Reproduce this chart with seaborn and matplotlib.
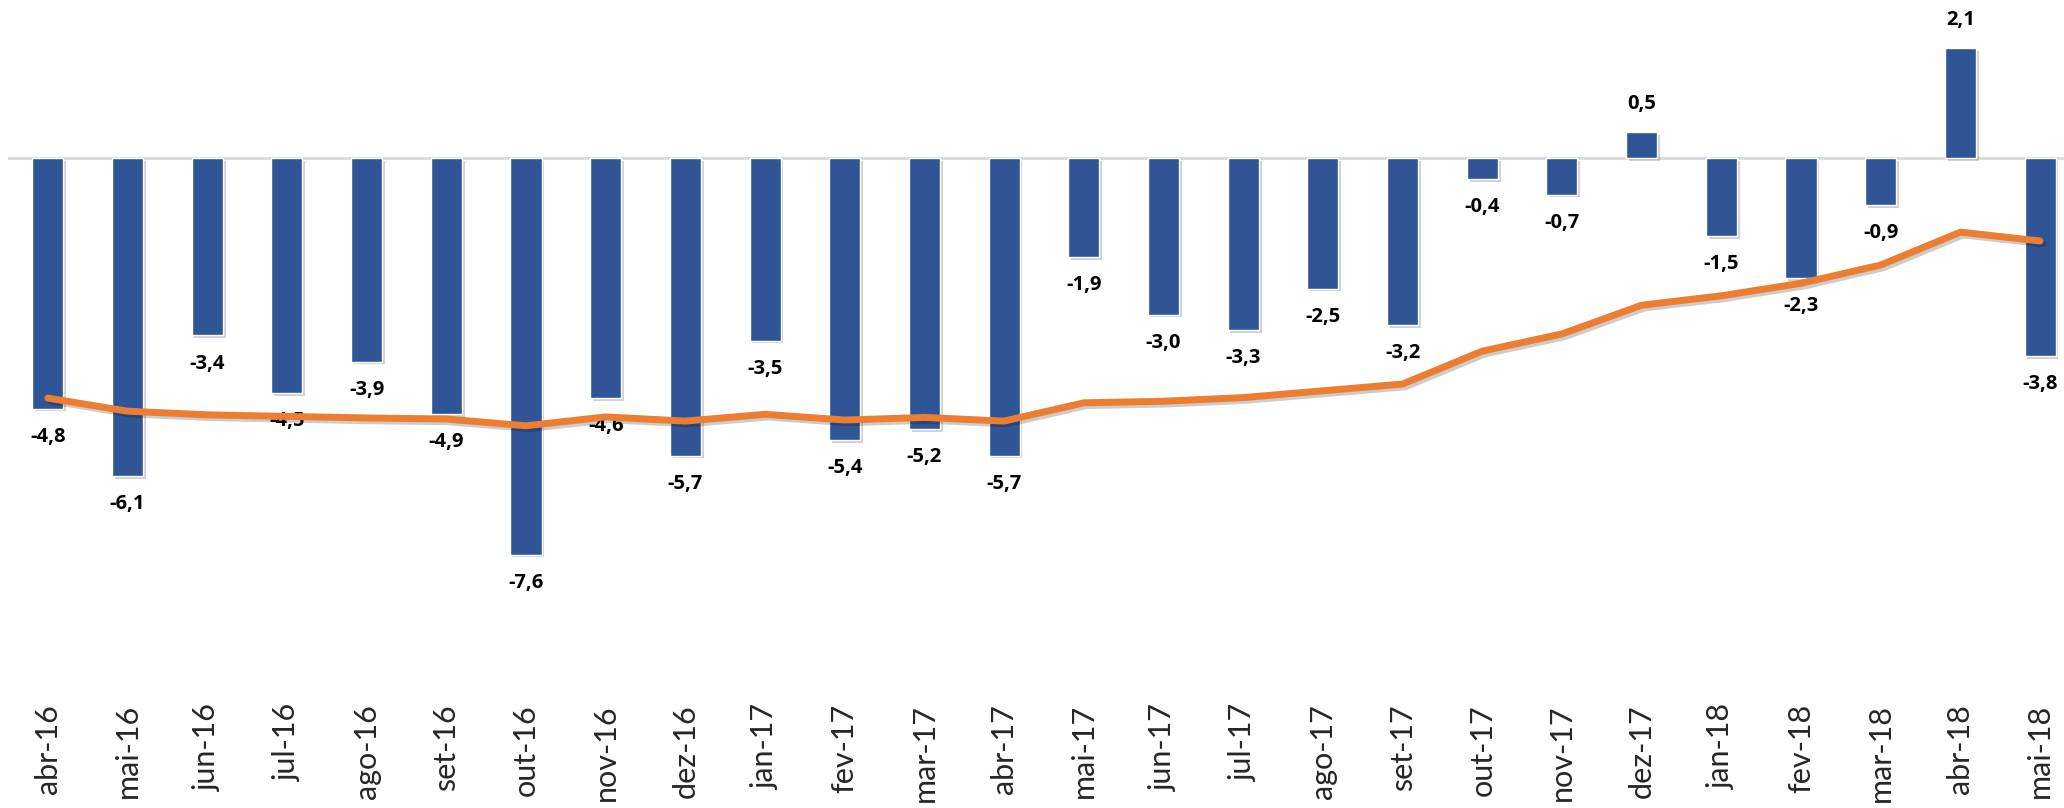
import numpy as np
import pandas as pd
import matplotlib
matplotlib.use("Agg")
import matplotlib.pyplot as plt
import matplotlib.patheffects as pe
import seaborn as sns

months = ["abr-16", "mai-16", "jun-16", "jul-16", "ago-16", "set-16", "out-16",
          "nov-16", "dez-16", "jan-17", "fev-17", "mar-17", "abr-17", "mai-17",
          "jun-17", "jul-17", "ago-17", "set-17", "out-17", "nov-17", "dez-17",
          "jan-18", "fev-18", "mar-18", "abr-18", "mai-18"]
monthly = [-4.8, -6.1, -3.4, -4.5, -3.9, -4.9, -7.6, -4.6, -5.7, -3.5, -5.4, -5.2,
           -5.7, -1.9, -3.0, -3.3, -2.5, -3.2, -0.4, -0.7, 0.5, -1.5, -2.3, -0.9,
           2.1, -3.8]
accum_12m = [-4.60, -4.85, -4.92, -4.95, -4.98, -5.00, -5.13, -4.96, -5.04, -4.91,
             -5.02, -4.97, -5.04, -4.69, -4.66, -4.59, -4.46, -4.33, -3.70, -3.37,
             -2.82, -2.64, -2.40, -2.05, -1.42, -1.59]

df = pd.DataFrame({"mes": months, "mensal": monthly, "acum": accum_12m})

bar_color = "#2F5597"
line_color = "#ED7D31"

sns.set_style("white")
plt.rcParams["font.family"] = ["Lato", "DejaVu Sans"]

fig = plt.figure(figsize=(20.64, 8.08), dpi=100)
ax = fig.add_axes([8 / 2064, 115 / 808, 2056 / 2064, 693 / 808])

shadow = [pe.SimplePatchShadow(offset=(2, -2), alpha=0.2), pe.Normal()]

sns.barplot(data=df, x="mes", y="mensal", color=bar_color, width=0.39,
            saturation=1, ax=ax, zorder=3)
for p in ax.patches:
    p.set_path_effects(shadow)

ax.axhline(0, color="#D9D9D9", lw=2, zorder=2)

sns.lineplot(data=df, x="mes", y="acum", sort=False, color=line_color,
             linewidth=5, ax=ax, zorder=4,
             path_effects=[pe.SimpleLineShadow(offset=(2, -2), alpha=0.2), pe.Normal()])
ax.lines[-1].set_solid_capstyle("round")
ax.lines[-1].set_solid_joinstyle("round")

labels = [f"{v:.1f}".replace(".", ",") for v in monthly]
ax.bar_label(ax.containers[0], labels=labels, padding=13, fontsize=14.5,
             fontweight="bold", color="black", family=["Open Sans", "DejaVu Sans"])

px_per_unit = 52.2
ax.set_ylim(-(693 - 158) / px_per_unit, 158 / px_per_unit)
ax.set_xlim(-0.5, 25.3)

ax.set_xlabel("")
ax.set_ylabel("")
ax.set_yticks([])
ax.tick_params(axis="x", length=0, pad=8, labelsize=22, rotation=90)
for s in ax.spines.values():
    s.set_visible(False)

fig.savefig("out.png", dpi=100)
